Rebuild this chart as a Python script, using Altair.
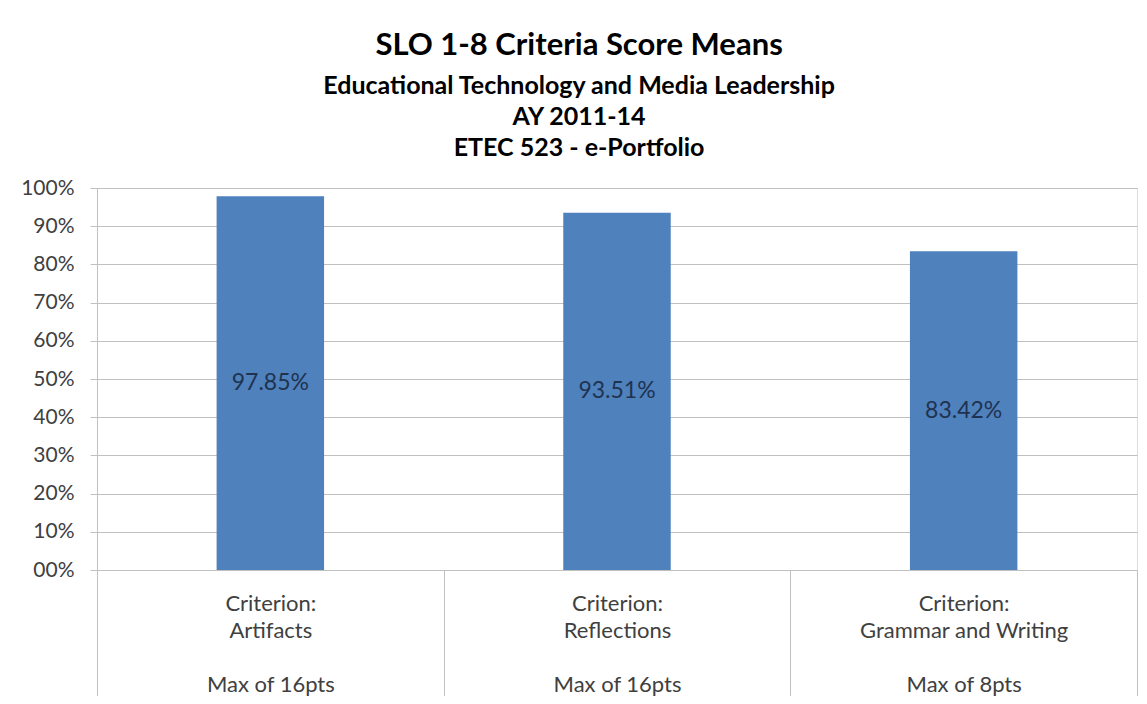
import altair as alt
import pandas as pd

# ---- data ----
criteria = ["Artifacts", "Reflections", "Grammar and Writing"]
max_points = ["Max of 16pts", "Max of 16pts", "Max of 8pts"]
score_means = [0.9785, 0.9351, 0.8342]
y_ticks = [0.0, 0.1, 0.2, 0.3, 0.4, 0.5, 0.6, 0.7, 0.8, 0.9, 1.0]

title_text = "SLO 1-8 Criteria Score Means"
subtitle_lines = [
    "Educational Technology and Media Leadership",
    "AY 2011-14",
    "ETEC 523 - e-Portfolio",
]

BLANK = "\u200b"
df = pd.DataFrame({
    "label": ["Criterion:|" + c + "|" + BLANK + "|" + m for c, m in zip(criteria, max_points)],
    "mean": score_means,
})

FONT = "Lato"
GRAY = "#c0c0c0"
LABEL = "#404040"


def y_axis():
    return alt.Axis(
        values=y_ticks,
        labelExpr="datum.value == 0 ? '00%' : format(datum.value, '.0%')",
        labelFont=FONT, labelFontSize=21, labelColor=LABEL,
        tickSize=7, tickColor=GRAY, domainColor=GRAY, gridColor=GRAY,
        labelPadding=16,
    )


x_enc = alt.X(
    "label:N", sort=None, title=None,
    scale=alt.Scale(paddingInner=0, paddingOuter=0),
    axis=alt.Axis(
        labelExpr="split(datum.label, '|')",
        labelAngle=0, labelFont=FONT, labelFontSize=22, labelColor=LABEL,
        labelLineHeight=27, labelBaseline="top", labelLimit=0,
        tickBand="extent", tickSize=128, tickColor=GRAY, domainColor=GRAY,
        labelPadding=-105, grid=False,
    ),
)

bars = alt.Chart(df).mark_bar(
    color="#4F81BD", width=alt.RelativeBandSize(0.31)
).encode(
    x=x_enc,
    y=alt.Y("mean:Q", title=None, scale=alt.Scale(domain=[0, 1], nice=False), axis=y_axis()),
)

labels = alt.Chart(df).transform_calculate(
    mid="datum.mean / 2"
).mark_text(font=FONT, fontSize=23, color="#1F3350").encode(
    x=x_enc,
    y=alt.Y("mid:Q", title=None, scale=alt.Scale(domain=[0, 1], nice=False), axis=y_axis()),
    text=alt.Text("mean:Q", format=".2%"),
)

chart = alt.layer(bars, labels).properties(
    width=1040,
    height=382,
    autosize=alt.AutoSizeParams(type="none"),
    padding={"left": 89, "top": 180, "right": 2, "bottom": 126},
    title=alt.Title(
        text=title_text,
        subtitle=subtitle_lines,
        font=FONT, fontSize=31, fontWeight="bold", color="black",
        subtitleFont=FONT, subtitleFontSize=25, subtitleFontWeight="bold",
        subtitleColor="black", subtitleLineHeight=31, subtitlePadding=12,
        anchor="middle", frame="bounds", offset=15,
    ),
).configure_view(strokeWidth=0).configure(background="white")

chart.save("out.html", embed_options={"renderer": "svg", "actions": False})
